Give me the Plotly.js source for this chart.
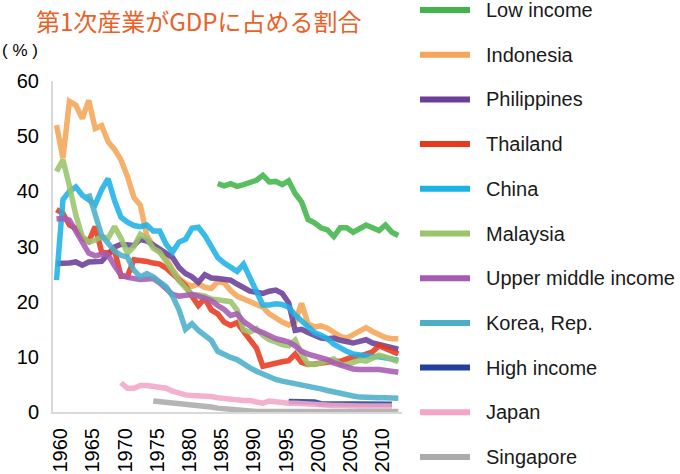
<!DOCTYPE html>
<html>
<head>
<meta charset="utf-8">
<script src="https://cdn.plot.ly/plotly-3.0.1.min.js"></script>
<style>
  html, body { margin: 0; padding: 0; background: #ffffff; }
  #chart { width: 680px; height: 474px; }
</style>
</head>
<body>
<div id="chart"></div>
<script>
// ---- Data (share of primary industry in GDP, %) ----
const tickYears = [1960, 1965, 1970, 1975, 1980, 1985, 1990, 1995, 2000, 2005, 2010];
const yTicks = [0, 10, 20, 30, 40, 50, 60];

const seriesNames = ["Low income", "Indonesia", "Philippines", "Thailand", "China", "Malaysia",
  "Upper middle income", "Korea, Rep.", "High income", "Japan", "Singapore"];
const seriesColors = ["#41b549", "#f4a557", "#6a3f98", "#e8381e", "#1db2e6", "#9bc46b",
  "#a65bb2", "#4bafc8", "#223f9a", "#f3a6c8", "#ababab"];

const lowIncomeStart = 1985;
const lowIncome = [41.4, 41.0, 41.4, 40.9, 41.2, 41.6, 42.0, 42.9, 41.7, 41.8,
  41.2, 41.9, 39.6, 38.1, 34.9, 34.3, 33.4, 33.0, 31.8, 33.4,
  33.4, 32.6, 33.2, 33.9, 33.4, 32.9, 33.9, 32.6, 32.0];

const indonesiaStart = 1960;
const indonesia = [52.0, 46.0, 56.3, 55.6, 53.2, 56.5, 51.4, 51.9, 49.0, 47.6,
  45.7, 42.7, 38.9, 37.5, 32.0, 30.0, 29.0, 27.8, 25.8, 24.2,
  23.3, 22.8, 23.2, 22.6, 22.4, 23.6, 23.4, 22.0, 21.0, 20.5,
  20.0, 19.6, 19.0, 17.8, 16.9, 16.3, 15.8, 16.4, 19.7, 16.0,
  15.4, 15.6, 15.2, 14.4, 13.7, 13.4, 14.0, 14.8, 15.3, 14.6,
  14.0, 13.5, 13.3, 13.3];

const philippinesStart = 1960;
const philippines = [26.9, 26.9, 27.0, 27.2, 26.6, 27.2, 27.2, 27.3, 28.6, 29.9,
  30.4, 30.3, 30.2, 31.3, 31.0, 30.3, 29.6, 28.8, 28.0, 26.2,
  25.1, 24.5, 23.5, 24.9, 24.3, 24.2, 24.0, 23.9, 23.2, 22.6,
  21.9, 21.7, 21.5, 21.9, 22.1, 21.5, 19.8, 14.8, 15.0, 14.4,
  14.0, 13.4, 13.3, 13.4, 13.0, 12.7, 12.5, 12.8, 13.1, 12.5,
  12.2, 12.0, 11.7, 11.4];

const thailandStart = 1960;
const thailand = [36.7, 36.0, 33.9, 33.3, 31.5, 30.9, 33.6, 29.0, 28.8, 29.3,
  24.6, 24.6, 27.6, 27.5, 27.3, 27.0, 26.8, 26.1, 25.0, 23.8,
  22.9, 21.0, 19.3, 20.6, 18.5, 17.8, 16.3, 15.7, 16.2, 14.6,
  13.2, 11.6, 8.3, 8.6, 9.0, 9.1, 9.3, 10.5, 9.0, 8.6,
  8.7, 8.9, 9.1, 9.2, 9.2, 9.6, 10.0, 10.1, 10.5, 10.9,
  12.0, 11.5, 11.1, 10.5];

const chinaStart = 1960;
const china = [23.9, 38.5, 40.0, 40.8, 39.3, 38.4, 37.6, 40.3, 42.3, 38.3,
  35.3, 34.4, 33.8, 33.6, 33.9, 32.8, 32.8, 30.4, 29.0, 30.8,
  31.3, 33.3, 33.5, 32.0, 30.2, 28.0, 27.0, 26.2, 25.5, 26.8,
  24.3, 21.5, 19.4, 19.4, 19.6, 19.5, 19.0, 17.6, 16.5, 15.5,
  14.4, 13.9, 13.3, 12.3, 11.5, 11.0, 10.5, 10.3, 10.2, 10.0,
  10.0, 9.8, 9.6, 9.4];

const malaysiaStart = 1960;
const malaysia = [43.6, 45.7, 41.0, 35.7, 31.8, 30.8, 31.2, 31.8, 31.5, 33.6,
  31.5, 28.8, 30.0, 32.2, 31.5, 29.7, 29.0, 27.5, 25.6, 23.8,
  22.5, 21.3, 21.2, 21.0, 20.5, 20.4, 20.3, 20.0, 18.5, 14.9,
  14.5, 15.1, 13.9, 13.1, 12.7, 12.2, 12.0, 13.0, 10.5, 8.7,
  8.6, 8.9, 9.3, 9.6, 8.6, 8.6, 9.0, 9.4, 9.2, 9.7,
  10.3, 10.0, 9.6, 9.1];

const upperMiddleStart = 1960;
const upperMiddle = [35.0, 35.1, 34.8, 33.0, 30.8, 28.8, 28.3, 28.6, 28.5, 26.5,
  24.8, 24.4, 24.2, 24.0, 24.1, 24.2, 23.4, 22.4, 21.3, 21.0,
  21.2, 21.3, 21.0, 20.7, 20.2, 19.3, 18.6, 17.5, 17.8, 16.4,
  15.6, 14.8, 14.4, 13.8, 13.3, 13.0, 12.7, 12.0, 11.0, 10.5,
  10.2, 10.0, 9.5, 8.9, 8.5, 8.1, 7.8, 7.7, 7.8, 7.7,
  7.7, 7.6, 7.4, 7.2];

const koreaStart = 1965;
const korea = [39.6, 35.5, 32.0, 30.6, 29.2,
  28.4, 28.1, 25.7, 24.5, 25.1, 24.5, 23.6, 22.7, 21.0, 18.5,
  15.0, 16.0, 14.8, 13.9, 13.0, 11.0, 10.4, 9.9, 9.5, 8.6,
  8.0, 7.4, 6.9, 6.3, 5.9, 5.6, 5.4, 5.1, 4.9, 4.7,
  4.4, 4.2, 3.9, 3.6, 3.4, 3.1, 2.9, 2.7, 2.6, 2.6,
  2.6, 2.6, 2.5, 2.5];

const highIncomeStart = 1996;
const highIncome = [1.9, 1.9, 1.9, 1.9, 1.8, 1.5, 1.5, 1.5, 1.5, 1.4,
  1.4, 1.4, 1.4, 1.4, 1.4, 1.4, 1.4];

const japanStart = 1970;
const japan = [5.3, 4.3, 4.3, 4.8, 4.8, 4.6, 4.4, 4.3, 3.8, 3.4,
  3.1, 3.0, 3.0, 2.9, 2.8, 2.6, 2.4, 2.3, 2.2, 2.1,
  2.1, 1.8, 1.6, 2.0, 1.8, 1.7, 1.6, 1.6, 1.5, 1.5,
  1.4, 1.3, 1.3, 1.2, 1.2, 1.1, 1.1, 1.1, 1.1, 1.1,
  1.1, 1.1, 1.1];

const singaporeStart = 1975;
const singapore = [2.0, 1.9, 1.8, 1.5, 1.4, 1.4, 1.3, 1.2, 1.0, 0.9,
  0.7, 0.6, 0.4, 0.2, 0.1, 0.1, 0.1, 0.1, 0.1, 0.1,
  0.1, 0.1, 0.1, 0.1, 0.1, 0.1, 0.1, 0.1, 0.1, 0.1,
  0.1, 0.1, 0.1, 0.1, 0.1, 0.1, 0.1, 0.1, 0.1];

const seriesValues = [lowIncome, indonesia, philippines, thailand, china, malaysia,
  upperMiddle, korea, highIncome, japan, singapore];
const seriesStarts = [lowIncomeStart, indonesiaStart, philippinesStart, thailandStart, chinaStart,
  malaysiaStart, upperMiddleStart, koreaStart, highIncomeStart, japanStart, singaporeStart];

// ---- Build traces ----
const traces = seriesNames.map((name, i) => {
  const vals = seriesValues[i];
  const xs = vals.map((_, j) => seriesStarts[i] + j);
  return {
    type: 'scatter',
    mode: 'lines',
    name: name,
    x: xs,
    y: vals,
    opacity: 0.88,
    line: { color: seriesColors[i], width: 5.5, shape: 'linear' },
    hoverinfo: 'skip',
    showlegend: false
  };
});

// ---- Geometry of the plot area (pixels) ----
const W = 680, H = 474;
const M = { l: 53, r: 278, t: 81, b: 62 };
const plotW = W - M.l - M.r;
const plotH = H - M.t - M.b;
const px2paperX = px => (px - M.l) / plotW;
const px2paperY = py => (H - M.b - py) / plotH;

// ---- Legend drawn as a column on the right (from the series names / colours) ----
const legendFirstY = 10, legendStepY = 44.7;
const legendLineX0 = 420, legendLineX1 = 470, legendTextX = 484;
const baseFont = 'Liberation Sans, Arial, Helvetica, sans-serif';

const shapes = [];
const annotations = [];
seriesNames.forEach((name, i) => {
  const py = legendFirstY + i * legendStepY;
  shapes.push({
    type: 'line', xref: 'paper', yref: 'paper',
    x0: px2paperX(legendLineX0), x1: px2paperX(legendLineX1),
    y0: px2paperY(py), y1: px2paperY(py),
    line: { color: seriesColors[i], width: 6 }
  });
  annotations.push({
    text: name, xref: 'paper', yref: 'paper',
    x: px2paperX(legendTextX), xanchor: 'left',
    y: px2paperY(py), yanchor: 'middle',
    showarrow: false,
    font: { family: baseFont, size: 20, color: '#1a1a1a' }
  });
});

annotations.push({
  text: '( % )',
  xref: 'paper', yref: 'paper',
  x: px2paperX(0), xanchor: 'left',
  y: px2paperY(50), yanchor: 'middle',
  showarrow: false,
  font: { family: baseFont, size: 17, color: '#000000' }
});

// Title as a top-anchored annotation so it stays fully inside the page
annotations.push({
  text: '第1次産業がGDPに占める割合',
  xref: 'paper', yref: 'paper',
  x: px2paperX(34), xanchor: 'left',
  y: px2paperY(1), yanchor: 'top',
  showarrow: false,
  font: { family: 'Noto Sans CJK JP, sans-serif', size: 24, color: '#ea6128' }
});

const layout = {
  width: W,
  height: H,
  paper_bgcolor: '#ffffff',
  plot_bgcolor: '#ffffff',
  margin: { l: M.l, r: M.r, t: M.t, b: M.b, pad: 0 },
  font: { family: baseFont, color: '#000000' },
  showlegend: false,
  xaxis: {
    type: 'linear',
    range: [1959.457, 2013.57],
    tickmode: 'array',
    tickvals: tickYears,
    ticktext: tickYears.map(String),
    tickangle: -90,
    ticks: 'outside',
    ticklen: 6,
    tickcolor: 'rgba(0,0,0,0)',
    ticklabelshift: 4,
    tickfont: { family: baseFont, size: 20, color: '#000000' },
    showgrid: false,
    zeroline: false,
    showline: true,
    linecolor: '#d9d9d9',
    linewidth: 2,
    fixedrange: true
  },
  yaxis: {
    range: [0, 60],
    tickmode: 'array',
    tickvals: yTicks,
    ticktext: yTicks.map(String),
    ticks: 'outside',
    ticklen: 8,
    tickcolor: 'rgba(0,0,0,0)',
    tickfont: { family: baseFont, size: 20, color: '#000000' },
    showgrid: false,
    zeroline: false,
    showline: true,
    linecolor: '#d9d9d9',
    linewidth: 2,
    fixedrange: true
  },
  shapes: shapes,
  annotations: annotations
};

Plotly.newPlot('chart', traces, layout, { displayModeBar: false, staticPlot: true });
</script>
</body>
</html>
